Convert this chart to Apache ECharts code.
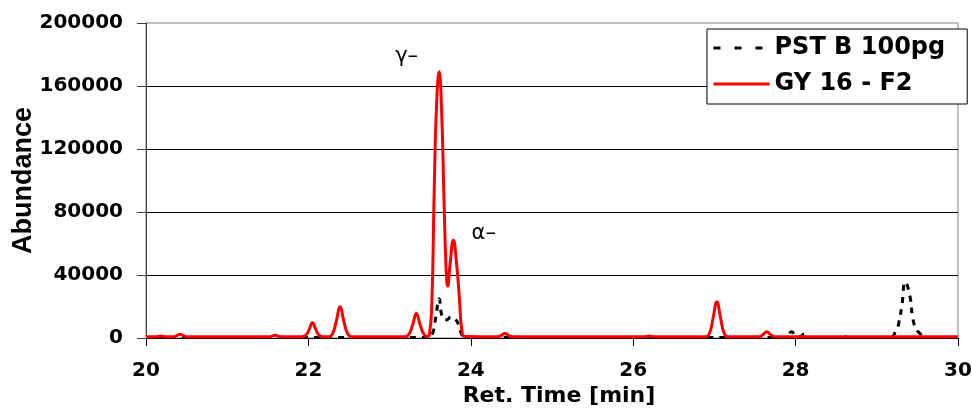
<!DOCTYPE html>
<html>
<head>
<meta charset="utf-8">
<script src="https://cdn.jsdelivr.net/npm/echarts@6/dist/echarts.min.js"></script>
<style>
html,body{margin:0;padding:0;background:#fff;}
#chart{width:972px;height:414px;}
</style>
</head>
<body>
<div id="chart"></div>
<script>
// Series names
const seriesNames = ['PST B 100pg', 'GY 16 - F2'];

// PST B 100pg (black dashed) – retention time [min] and abundance
const pstTime = [20.00, 22.30, 23.48, 23.53, 23.57, 23.61, 23.65, 23.70, 23.76, 23.80, 23.85, 23.89, 23.93,
  27.88, 27.95, 28.00, 28.05, 28.11, 28.17, 28.54, 28.59, 28.64,
  29.16, 29.24, 29.27, 29.31, 29.35, 29.41, 29.44, 29.48, 29.53, 29.59, 30.00];
const pstAbundance = [300, 300, 300, 3000, 13500, 25000, 13000, 11500, 13500, 12500, 8500, 2000, 300,
  300, 4000, 1500, 900, 2500, 300, 300, 1300, 300,
  300, 5000, 9300, 21000, 35500, 26000, 13500, 6000, 3000, 300, 300];

// GY 16 - F2 (red solid) – retention time [min] and abundance
const gyTime = [20.00, 20.12, 20.18, 20.24, 20.34, 20.38, 20.42, 20.46, 20.50, 21.00,
  21.52, 21.59, 21.66,
  21.92, 21.97, 22.01, 22.05, 22.09, 22.13, 22.18,
  22.25, 22.30, 22.345, 22.39, 22.435, 22.48, 22.53, 23.00,
  23.19, 23.24, 23.285, 23.33, 23.375, 23.42, 23.46,
  23.49, 23.52, 23.55, 23.58, 23.61, 23.64, 23.67, 23.695, 23.715, 23.745, 23.785, 23.825, 23.86, 23.89, 23.93,
  24.32, 24.37, 24.42, 24.47, 24.52,
  26.13, 26.20, 26.27,
  26.89, 26.94, 26.985, 27.03, 27.075, 27.12, 27.17,
  27.55, 27.60, 27.645, 27.69, 27.74, 30.00];
const gyAbundance = [800, 800, 1300, 800, 800, 1500, 2400, 1500, 800, 800,
  800, 1700, 800,
  800, 1800, 5500, 9700, 5500, 1800, 800,
  800, 3000, 11000, 19800, 11000, 3000, 800, 800,
  800, 2500, 8500, 15500, 8500, 2500, 900,
  2000, 22000, 95000, 150000, 169000, 145000, 88000, 45000, 33000, 47000, 62000, 47000, 25000, 5000, 900,
  800, 1500, 2900, 1500, 800,
  800, 1300, 800,
  800, 3000, 13000, 23000, 13000, 3000, 800,
  800, 2200, 3900, 2200, 800, 800];

// Peak annotations
const peakLabels = ['γ–', 'α–'];
const peakLabelTime = [23.21, 24.16];
const peakLabelAbundance = [178500, 66500];

// Axes
const xMin = 20, xMax = 30, xStep = 2;
const yMin = 0, yMax = 200000, yStep = 40000;
const xTitle = 'Ret. Time [min]';
const yTitle = 'Abundance';

const zip = (a, b) => a.map((v, i) => [v, b[i]]);

const chart = echarts.init(document.getElementById('chart'), null, {renderer: 'canvas'});
const boldFont = 'DejaVu Sans';

chart.setOption({
  animation: false,
  backgroundColor: '#ffffff',
  grid: {
    left: 146, right: 14, top: 23, bottom: 76,
    containLabel: false, outerBoundsMode: 'none',
    show: true, borderColor: '#808080', borderWidth: 1, backgroundColor: 'transparent'
  },
  legend: {
    orient: 'vertical',
    left: 707, top: 29,
    padding: [7, 22, 8, 5],
    itemGap: 12,
    itemWidth: 56, itemHeight: 14,
    backgroundColor: '#ffffff',
    borderColor: '#000000', borderWidth: 1, borderRadius: 0,
    textStyle: {fontFamily: boldFont, fontWeight: 'bold', fontSize: 24, color: '#000'},
    data: [
      {name: seriesNames[0], lineStyle: {type: [7, 14], width: 3, color: '#000'}, itemStyle: {opacity: 0}},
      {name: seriesNames[1], lineStyle: {width: 3, color: '#ff0000'}, itemStyle: {opacity: 0}}
    ]
  },
  xAxis: {
    type: 'value', min: xMin, max: xMax, interval: xStep,
    name: xTitle, nameLocation: 'middle', nameGap: 47, nameMoveOverlap: false,
    nameTextStyle: {fontFamily: boldFont, fontWeight: 'bold', fontSize: 22, color: '#000', padding: [0, 0, 0, 14]},
    axisLine: {show: true, onZero: false, lineStyle: {color: '#000', width: 1}},
    axisTick: {show: true, length: 8, lineStyle: {color: '#000'}},
    axisLabel: {margin: 23, fontFamily: boldFont, fontWeight: 'bold', fontSize: 20, color: '#000'},
    splitLine: {show: false}
  },
  yAxis: {
    type: 'value', min: yMin, max: yMax, interval: yStep,
    name: yTitle, nameLocation: 'middle', nameGap: 109, nameRotate: 90, nameMoveOverlap: false,
    nameTextStyle: {fontFamily: 'Liberation Sans', fontWeight: 'bold', fontSize: 27, color: '#000'},
    axisLine: {show: true, lineStyle: {color: '#404040', width: 1}},
    axisTick: {show: true, length: 9, lineStyle: {color: '#404040'}},
    axisLabel: {margin: 23, fontFamily: boldFont, fontWeight: 'bold', fontSize: 20, color: '#000',
      formatter: v => String(v)},
    splitLine: {show: true, showMinLine: false, showMaxLine: false, lineStyle: {color: '#000', width: 1}}
  },
  series: [
    {
      name: seriesNames[0], type: 'line', data: zip(pstTime, pstAbundance),
      symbol: 'none', smooth: 0.5,
      lineStyle: {color: '#000', width: 3, type: [6, 6]},
      itemStyle: {color: '#000'}, z: 2
    },
    {
      name: seriesNames[1], type: 'line', data: zip(gyTime, gyAbundance),
      symbol: 'none', smooth: 0.5,
      lineStyle: {color: '#ff0000', width: 3},
      itemStyle: {color: '#ff0000'}, z: 3,
      markPoint: {
        symbol: 'circle', symbolSize: 1,
        itemStyle: {color: 'rgba(0,0,0,0)'},
        label: {show: true, position: 'inside', formatter: p => p.name,
          fontFamily: 'DejaVu Sans', fontSize: 21, color: '#000'},
        data: peakLabels.map((t, i) => ({name: t, coord: [peakLabelTime[i], peakLabelAbundance[i]]}))
      }
    }
  ]
});
</script>
</body>
</html>
